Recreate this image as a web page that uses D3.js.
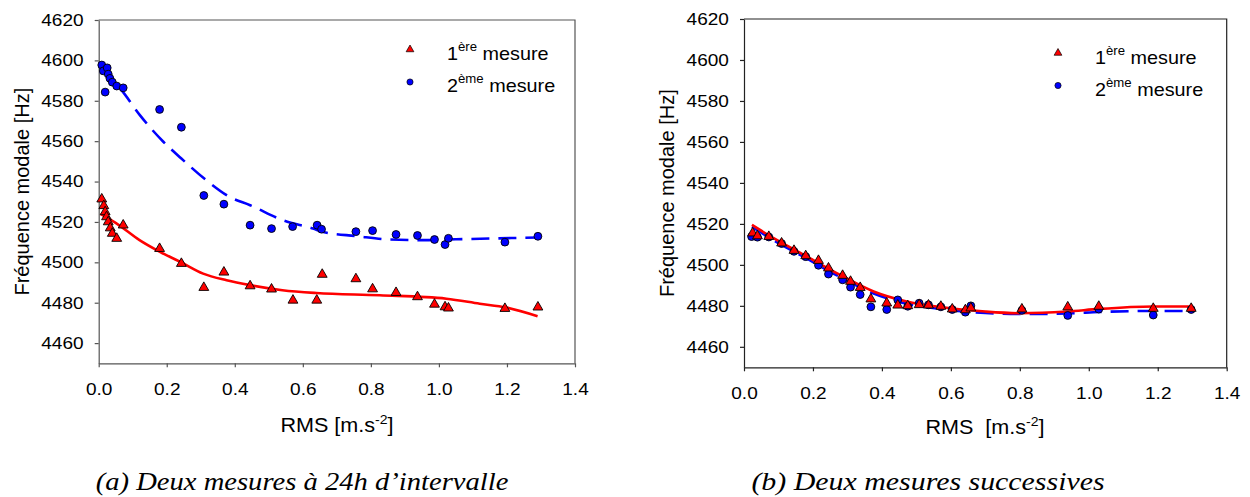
<!DOCTYPE html>
<html>
<head>
<meta charset="utf-8">
<script src="https://cdn.jsdelivr.net/npm/d3@7"></script>
<style>
  html, body { margin: 0; padding: 0; background: #fff; }
  svg { display: block; }
  text { font-family: "Liberation Sans", Arial, sans-serif; fill: #000; }
  text.caption { font-family: "Liberation Serif", "Times New Roman", Times, serif; font-style: italic; }
</style>
</head>
<body>
<svg id="chart" width="1250" height="497"></svg>
<script>
// ---------- Data ----------
const yTicks = [4460, 4480, 4500, 4520, 4540, 4560, 4580, 4600, 4620];
const xTicks = [0.0, 0.2, 0.4, 0.6, 0.8, 1.0, 1.2, 1.4];
const legendLabels = [["1", "ère", " mesure"], ["2", "ème", " mesure"]];
const captionA = "(a) Deux mesures à 24h d’intervalle";
const captionB = "(b) Deux mesures successives";
const yTitle = "Fréquence modale [Hz]";

// (a) 24h apart
const aRms1 = [0.009,0.015,0.019,0.023,0.028,0.034,0.040,0.053,0.072,0.179,0.243,0.309,0.368,0.445,0.508,0.571,0.641,0.657,0.756,0.805,0.874,0.937,0.987,1.018,1.028,1.194,1.291];
const aFreq1 = [4531.3,4528,4525,4522.5,4520,4517,4514.3,4511.8,4518.4,4506.8,4499.4,4487.5,4495.1,4488.3,4486.7,4481.2,4481.2,4494,4491.8,4486.8,4485,4482.9,4479.2,4477.9,4477.3,4477.1,4477.8];
const aRms2 = [0.009,0.0135,0.019,0.025,0.028,0.033,0.040,0.053,0.072,0.179,0.243,0.309,0.368,0.445,0.508,0.570,0.642,0.655,0.756,0.805,0.874,0.937,0.987,1.018,1.028,1.194,1.291];
const aFreq2 = [4597.7,4594.8,4584.3,4596.3,4593.2,4591.1,4589.2,4587.3,4586.4,4575.7,4566.9,4533.1,4528.8,4518.4,4516.7,4517.7,4518.4,4516.4,4515.2,4515.7,4513.8,4513.3,4511.3,4508.8,4511.9,4510.0,4512.9];
const aFitRms1 = [0.005,0.053,0.12,0.18,0.24,0.307,0.376,0.445,0.54,0.64,0.826,1.022,1.12,1.198,1.29];
const aFitFreq1 = [4524,4519.2,4511,4505.2,4500.2,4494.4,4491.1,4488.7,4486.2,4484.8,4483.7,4482,4479.5,4477.6,4473.3];
const aFitRms2 = [0.005,0.067,0.121,0.19,0.243,0.316,0.385,0.445,0.541,0.63,0.66,0.758,0.855,0.953,1.05,1.29];
const aFitFreq2 = [4596,4585.3,4572.9,4559.7,4551.4,4540.7,4532.4,4528.3,4520.9,4516.7,4515,4513,4511.3,4511,4511.4,4512.3];

// (b) successive
const bRms1 = [0.025,0.039,0.072,0.109,0.145,0.179,0.216,0.245,0.286,0.309,0.337,0.368,0.414,0.446,0.475,0.508,0.535,0.571,0.604,0.642,0.658,0.806,0.939,1.029,1.187,1.297];
const bFreq1 = [4515.5,4514.1,4513.8,4510.6,4507,4504.4,4502.1,4498.4,4494.8,4491.9,4488.9,4483.3,4481.3,4480.3,4480,4480.5,4480.3,4479.7,4478.4,4478,4478.9,4478.4,4479.4,4479.7,4478.7,4478.7];
const bRms2 = [0.022,0.039,0.072,0.109,0.145,0.179,0.216,0.245,0.286,0.309,0.337,0.368,0.414,0.446,0.475,0.508,0.535,0.571,0.604,0.642,0.658,0.806,0.939,1.029,1.187,1.297];
const bFreq2 = [4513.8,4513.5,4513.6,4510.4,4506.6,4504,4499.8,4495.5,4492.7,4489.1,4485.5,4479.5,4478.2,4482.9,4479.8,4481.3,4480.5,4479.5,4478.2,4476.9,4480,4477.8,4475.3,4478.4,4475.5,4478.2];
const bFitRms1 = [0.023,0.086,0.183,0.279,0.376,0.472,0.569,0.7,0.801,0.936,1.03,1.187,1.297];
const bFitFreq1 = [4519.5,4513,4504,4495.1,4487,4482.1,4479.4,4477.2,4476.4,4477.2,4478.5,4479.7,4479.7];
const bFitRms2 = [0.023,0.086,0.183,0.279,0.376,0.472,0.569,0.7,0.8,0.94,1.03,1.19,1.3];
const bFitFreq2 = [4518.5,4512,4503,4494,4486,4481,4478.5,4476.5,4476,4476.3,4477,4477.5,4477.5];

// ---------- Drawing ----------
const svg = d3.select("#chart");
svg.append("rect").attr("width", 1250).attr("height", 497).attr("fill", "#fff");

const RED = "#ff0000", BLUE = "#0000ff";
const zip = (xs, ys) => xs.map((x, i) => [x, ys[i]]);

function drawPanel(cfg) {
  const x = d3.scaleLinear().domain([0, 1.4]).range([cfg.x0, cfg.x1]);
  const y = d3.scaleLinear().domain([4450, 4620]).range([cfg.y0, cfg.y1]);
  const g = svg.append("g");

  g.append("path")
    .attr("d", `M${cfg.x0},${cfg.y1}H${cfg.x1}V${cfg.y0}`)
    .attr("fill", "none").attr("stroke", cfg.frame).attr("stroke-width", 1.2);

  const ya = g.append("g").attr("transform", `translate(${cfg.x0},0)`)
    .call(d3.axisLeft(y).tickValues(yTicks).tickSize(4).tickSizeOuter(0).tickPadding(9.5).tickFormat(d3.format("d")));
  const xa = g.append("g").attr("transform", `translate(0,${cfg.y0})`)
    .call(d3.axisBottom(x).tickValues(xTicks).tickSize(4).tickSizeOuter(0).tickPadding(16).tickFormat(d3.format(".1f")));
  [ya, xa].forEach(a => {
    a.select(".domain").attr("stroke", cfg.frame).attr("stroke-width", 1.2);
    a.selectAll(".tick line").attr("stroke", cfg.frame).attr("stroke-width", 1.2);
    a.selectAll(".tick text").attr("font-size", 17)
      .attr("fill", "#000").attr("transform", "scale(1.12,1)");
  });

  const line = d3.line().x(d => x(d[0])).y(d => y(d[1])).curve(d3.curveMonotoneX);

  cfg.fitOrder.map(k => cfg.fits[k]).forEach(f => {
    g.append("path").datum(zip(f.xs, f.ys))
      .attr("d", line).attr("fill", "none")
      .attr("stroke", f.color).attr("stroke-width", 2.6)
      .attr("stroke-dasharray", f.dash || null);
  });

  cfg.series.forEach(s => {
    const sym = d3.symbol().type(s.type).size(s.size);
    g.append("g").selectAll("path").data(zip(s.xs, s.ys)).join("path")
      .attr("transform", d => `translate(${x(d[0])},${y(d[1])})`)
      .attr("d", sym).attr("fill", s.color).attr("stroke", "#000").attr("stroke-width", 0.9);
  });

  legendLabels.forEach((lab, i) => {
    const lx = cfg.legX, ly = cfg.legY + i * cfg.legDy;
    const sym = i === 0 ? d3.symbolTriangle : d3.symbolCircle;
    g.append("path").attr("transform", `translate(${lx},${ly - 11 + (i === 0 ? 0.5 : 1)})`)
      .attr("d", d3.symbol().type(sym).size(i === 0 ? 26 : 30))
      .attr("fill", i === 0 ? RED : BLUE).attr("stroke", "#000").attr("stroke-width", 0.7);
    const t = g.append("text").attr("transform", `translate(${cfg.legTx},${ly}) scale(1.1,1)`)
      .attr("font-size", 18);
    t.append("tspan").text(lab[0]);
    t.append("tspan").attr("font-size", 12).attr("dy", -9).text(lab[1]);
    t.append("tspan").attr("dy", 9).text(lab[2]);
  });

  g.append("text")
    .attr("transform", `translate(${cfg.yTitleX},${(cfg.y0 + cfg.y1) / 2}) rotate(-90)`)
    .attr("text-anchor", "middle").attr("font-size", 20).text(yTitle);

  const xt = g.append("text")
    .attr("transform", `translate(${cfg.xTitleX},${cfg.xTitleY}) scale(1.08,1)`)
    .attr("text-anchor", "middle").attr("font-size", 20).attr("xml:space", "preserve");
  xt.append("tspan").text(cfg.xTitle);
  xt.append("tspan").attr("font-size", 13).attr("dy", -8).text("-2");
  xt.append("tspan").attr("dy", 8).text("]");

  svg.append("text").attr("class", "caption")
    .attr("transform", `translate(${cfg.capX},490) scale(${cfg.capScale},1)`)
    .attr("text-anchor", "middle")
    .attr("font-size", 26).text(cfg.caption);
}

drawPanel({
  x0: 98.7, x1: 575, y0: 363.3, y1: 20, frame: "#555",
  fits: {
    red: { xs: aFitRms1, ys: aFitFreq1, color: RED },
    blue: { xs: aFitRms2, ys: aFitFreq2, color: BLUE, dash: "18,9" }
  },
  fitOrder: ["blue", "red"],
  series: [
    { xs: aRms1, ys: aFreq1, color: RED, type: d3.symbolTriangle, size: 42 },
    { xs: aRms2, ys: aFreq2, color: BLUE, type: d3.symbolCircle, size: 48 }
  ],
  legX: 410, legY: 60, legDy: 32, legTx: 447,
  yTitleX: 29, xTitleX: 337, xTitleY: 432, xTitle: "RMS [m.s",
  capX: 302, capScale: 1.1, caption: captionA
});

drawPanel({
  x0: 744, x1: 1226.7, y0: 367.3, y1: 19, frame: "#222",
  fits: {
    red: { xs: bFitRms1, ys: bFitFreq1, color: RED },
    blue: { xs: bFitRms2, ys: bFitFreq2, color: BLUE, dash: "18,9" }
  },
  fitOrder: ["blue", "red"],
  series: [
    { xs: bRms2, ys: bFreq2, color: BLUE, type: d3.symbolCircle, size: 48 },
    { xs: bRms1, ys: bFreq1, color: RED, type: d3.symbolTriangle, size: 42 }
  ],
  legX: 1058, legY: 63.5, legDy: 32, legTx: 1095,
  yTitleX: 674, xTitleX: 985, xTitleY: 434, xTitle: "RMS  [m.s",
  capX: 928, capScale: 1.15, caption: captionB
});
</script>
</body>
</html>
